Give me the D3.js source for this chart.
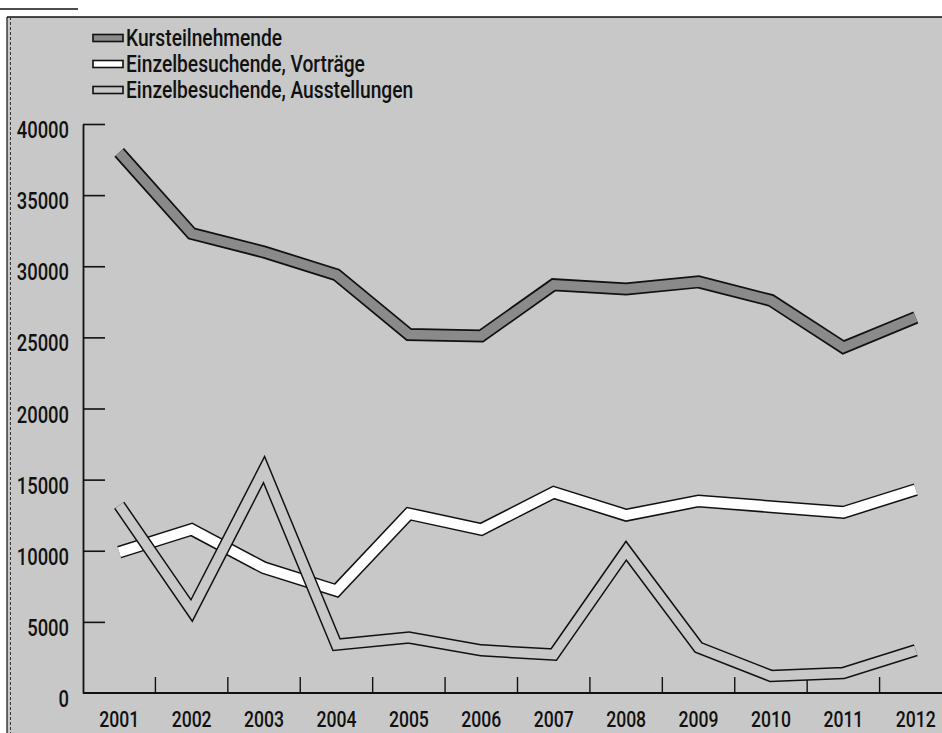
<!DOCTYPE html>
<html>
<head>
<meta charset="utf-8">
<script src="https://cdn.jsdelivr.net/npm/d3@7"></script>
<style>
  html, body { margin: 0; padding: 0; background: #fff; }
  #chart { width: 942px; height: 733px; }
  text { font-family: Roboto, "Open Sans", sans-serif; font-weight: 500; fill: #111; }
</style>
</head>
<body>
<div id="chart"></div>
<script>
const years = ["2001", "2002", "2003", "2004", "2005", "2006", "2007", "2008", "2009", "2010", "2011", "2012"];
const kursteilnehmende = [38000, 32300, 31000, 29400, 25200, 25100, 28700, 28400, 28900, 27600, 24300, 26400];
const vortraege = [9900, 11500, 8800, 7200, 12600, 11500, 14100, 12500, 13500, 13100, 12700, 14300];
const ausstellungen = [13200, 5800, 15700, 3400, 3900, 3000, 2700, 10000, 3200, 1200, 1400, 3000];
const yTicks = [0, 5000, 10000, 15000, 20000, 25000, 30000, 35000, 40000];
const seriesNames = ["Kursteilnehmende", "Einzelbesuchende, Vorträge", "Einzelbesuchende, Ausstellungen"];

const width = 942;
const height = 733;
const bg = "#c8c8c8";
const squeeze = 0.8; // the print uses a condensed face

const svg = d3
  .select("#chart")
  .append("svg")
  .attr("width", width)
  .attr("height", height);

// condensed text: scale each label horizontally around its anchor point
function label(parent, tx, ty, str, anchor, size) {
  parent.append("g")
    .attr("transform", `translate(${tx},${ty}) scale(${squeeze},1)`)
    .append("text")
    .attr("text-anchor", anchor)
    .style("font-size", size + "px")
    .text(str);
}

// scanned page frame
svg.append("rect")
  .attr("x", 7).attr("y", 17)
  .attr("width", width - 7).attr("height", height - 17)
  .attr("fill", bg);
svg.append("line").attr("x1", 0).attr("x2", 78).attr("y1", 9).attr("y2", 9)
  .attr("stroke", "#111").attr("stroke-width", 1.5);
svg.append("line").attr("x1", 7).attr("x2", width).attr("y1", 17).attr("y2", 17)
  .attr("stroke", "#111").attr("stroke-width", 1.5);
svg.append("line").attr("x1", 7).attr("x2", 7).attr("y1", 17).attr("y2", height)
  .attr("stroke", "#111").attr("stroke-width", 1.2);
svg.append("line").attr("x1", 10.5).attr("x2", 10.5).attr("y1", 17).attr("y2", height)
  .attr("stroke", "#333").attr("stroke-width", 1).attr("stroke-dasharray", "3,2");

const x = d3.scaleBand().domain(years).range([83, 952]);
const y = d3.scaleLinear().domain([0, 40000]).range([693, 124]);

// y axis: ticks point right, labels to the left
const yAxis = svg.append("g")
  .attr("transform", "translate(83,0)")
  .call(d3.axisRight(y).tickValues(yTicks).tickSize(22).tickSizeOuter(0).tickFormat(""));
yAxis.select(".domain").attr("stroke", "#111").attr("stroke-width", 1.8);
yAxis.selectAll(".tick line").attr("stroke", "#111").attr("stroke-width", 1.6);
yAxis.selectAll(".tick").filter((d) => d === 0).select("line").remove();

const yLabels = svg.append("g");
yTicks.forEach((d) => label(yLabels, 69, y(d) + 14, d, "end", 23));

// x axis: baseline plus boundary ticks between years
svg.append("line")
  .attr("x1", 83).attr("x2", width)
  .attr("y1", y(0)).attr("y2", y(0))
  .attr("stroke", "#111").attr("stroke-width", 1.8);

svg.append("g")
  .selectAll("line")
  .data(years.slice(1))
  .join("line")
  .attr("x1", (d) => x(d)).attr("x2", (d) => x(d))
  .attr("y1", y(0)).attr("y2", y(0) - 16)
  .attr("stroke", "#111").attr("stroke-width", 1.4);

const xLabels = svg.append("g");
years.forEach((d) => label(xLabels, x(d) + x.bandwidth() / 2, 727, d, "middle", 22));

// series as outlined bands
const line = d3.line()
  .x((d, i) => x(years[i]) + x.bandwidth() / 2)
  .y((d) => y(d));

const series = [
  { values: kursteilnehmende, fill: "#8a8a8a", outer: 13, inner: 9.5 },
  { values: vortraege, fill: "#ffffff", outer: 13, inner: 10 },
  { values: ausstellungen, fill: bg, outer: 12.5, inner: 9.5 },
];

series.forEach((s) => {
  const g = svg.append("g");
  g.append("path")
    .attr("d", line(s.values))
    .attr("fill", "none")
    .attr("stroke", "#111")
    .attr("stroke-width", s.outer)
    .attr("stroke-linejoin", "miter")
    .attr("stroke-linecap", "butt");
  g.append("path")
    .attr("d", line(s.values))
    .attr("fill", "none")
    .attr("stroke", s.fill)
    .attr("stroke-width", s.inner)
    .attr("stroke-linejoin", "miter")
    .attr("stroke-linecap", "butt");
});

// legend
const legendY = [38, 64, 90];
const legend = svg.append("g");
seriesNames.forEach((name, i) => {
  legend.append("rect")
    .attr("x", 93).attr("y", legendY[i] - 3.5)
    .attr("width", 30).attr("height", 7)
    .attr("fill", series[i].fill)
    .attr("stroke", "#111")
    .attr("stroke-width", 1.6);
  label(legend, 126, legendY[i] + 8, name, "start", 24);
});
</script>
</body>
</html>
